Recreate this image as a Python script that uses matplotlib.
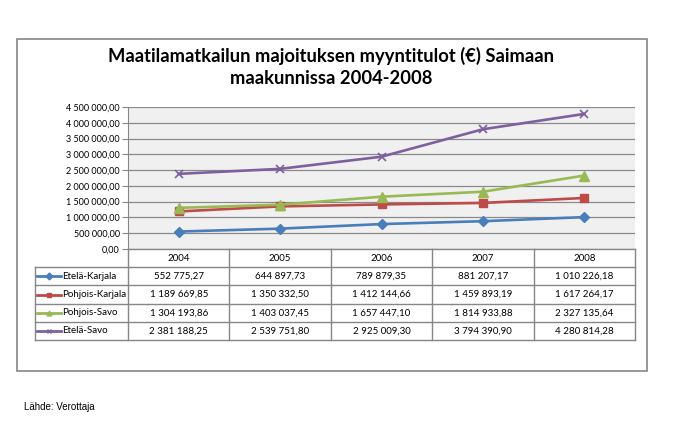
import matplotlib.pyplot as plt
from matplotlib.patches import Rectangle
from matplotlib.lines import Line2D

years = ['2004', '2005', '2006', '2007', '2008']
names = ['Etelä-Karjala', 'Pohjois-Karjala', 'Pohjois-Savo', 'Etelä-Savo']
etela_karjala = [552775.27, 644897.73, 789879.35, 881207.17, 1010226.18]
pohjois_karjala = [1189669.85, 1350332.50, 1412144.66, 1459893.19, 1617264.17]
pohjois_savo = [1304193.86, 1403037.45, 1657447.10, 1814933.88, 2327135.64]
etela_savo = [2381188.25, 2539751.80, 2925009.30, 3794390.90, 4280814.28]
yticks = [0, 500000, 1000000, 1500000, 2000000, 2500000, 3000000, 3500000, 4000000, 4500000]

series = [etela_karjala, pohjois_karjala, pohjois_savo, etela_savo]
colors = ['#4a7ebb', '#be4b48', '#98b954', '#7d60a0']
markers = ['D', 's', '^', 'x']
msizes = [5, 6, 7, 6]

plt.rcParams['font.family'] = ['Lato', 'DejaVu Sans']

def fi(v):
    s = '{:,.2f}'.format(v)
    return s.replace(',', ' ').replace('.', ',')

W, H = 688, 428
fig = plt.figure(figsize=(W/100, H/100), dpi=100)

def box(x0, y0, x1, y1):
    return [x0/W, 1-y1/H, (x1-x0)/W, (y1-y0)/H]

# outer frame
fig.patches.append(Rectangle((17/W, 1-371/H), (647-17)/W, (371-39)/H,
                             transform=fig.transFigure, fill=False,
                             edgecolor='#868686', lw=1.2))

fig.text(331/W, 1-56/H, 'Maatilamatkailun majoituksen myyntitulot (€) Saimaan',
         ha='center', va='center', fontsize=13.2, fontweight='bold')
fig.text(331/W, 1-79/H, 'maakunnissa 2004-2008',
         ha='center', va='center', fontsize=13.2, fontweight='bold')

ax = fig.add_axes(box(128, 107, 635, 249))
ax.set_facecolor('#f0f0f0')
x = list(range(len(years)))
for s, c, m, ms in zip(series, colors, markers, msizes):
    ax.plot(x, s, color=c, lw=1.9, marker=m, ms=ms, mew=1.2 if m == 'x' else 1,
            clip_on=False, zorder=3)
ax.set_xlim(-0.5, 4.5)
ax.set_ylim(0, 4500000)
ax.set_yticks(yticks)
ax.set_yticklabels([fi(v) for v in yticks], fontsize=6.5)
ax.set_xticks([])
ax.yaxis.grid(True, color='#8a8a8a', lw=0.9)
ax.set_axisbelow(True)
for sp in ['top', 'right', 'bottom']:
    ax.spines[sp].set_visible(False)
ax.spines['left'].set_color('#868686')
ax.tick_params(axis='y', length=4, color='#868686', pad=2)

# data table
tax = fig.add_axes(box(35, 249, 635, 340))
lw_col = (128-35)/((635-128)/5)
tax.set_xlim(-0.5-lw_col, 4.5)
tax.set_ylim(5, 0)
tax.axis('off')
gc = '#868686'
# horizontal lines
tax.plot([-0.5, 4.5], [0, 0], color=gc, lw=1, clip_on=False)
for r in range(1, 6):
    tax.plot([-0.5-lw_col, 4.5], [r, r], color=gc, lw=1, clip_on=False)
# vertical lines
tax.plot([-0.5-lw_col, -0.5-lw_col], [1, 5], color=gc, lw=1, clip_on=False)
for i in range(6):
    tax.plot([i-0.5, i-0.5], [0, 5], color=gc, lw=1, clip_on=False)
for i, yr in enumerate(years):
    tax.text(i, 0.5, yr, ha='center', va='center', fontsize=7)
for r, (name, s, c, m) in enumerate(zip(names, series, colors, markers)):
    yy = r + 1.5
    x0 = -0.5-lw_col+0.02
    tax.add_line(Line2D([x0, x0+0.24], [yy, yy], color=c, lw=2, clip_on=False))
    tax.add_line(Line2D([x0+0.12], [yy], color=c, marker=m, ms=3.5, mew=1,
                        clip_on=False))
    tax.text(x0+0.25, yy, name, ha='left', va='center', fontsize=7)
    for i, v in enumerate(s):
        tax.text(i, yy, fi(v), ha='center', va='center', fontsize=7)

fig.text(24/W, 1-407/H, 'Lähde: Verottaja', ha='left', va='center',
         fontsize=7, family=['Liberation Sans', 'DejaVu Sans'])

fig.savefig('out.png', dpi=100)
